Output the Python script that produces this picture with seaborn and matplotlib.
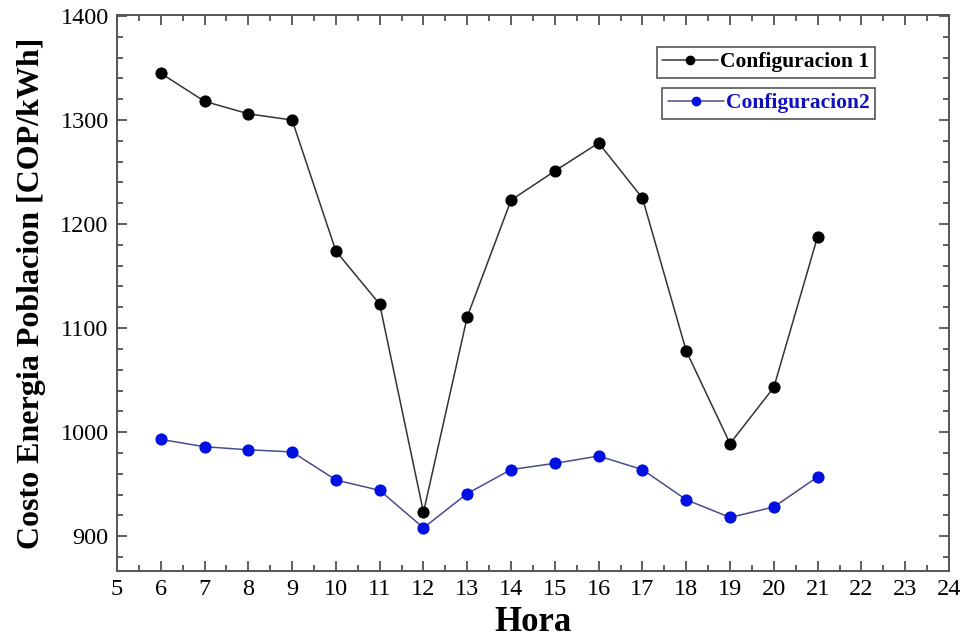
import numpy as np
import pandas as pd
import seaborn as sns
import matplotlib.pyplot as plt
from matplotlib.ticker import MultipleLocator
from matplotlib.lines import Line2D

# hourly cost values
hora = [6, 7, 8, 9, 10, 11, 12, 13, 14, 15, 16, 17, 18, 19, 20, 21]
config1 = [1345, 1318, 1306, 1300, 1174, 1123, 923, 1111, 1223, 1251, 1278, 1225, 1078, 989, 1043, 1188]
config2 = [993, 986, 983, 981, 954, 944, 908, 941, 964, 970, 977, 964, 935, 918, 928, 957]

df = pd.DataFrame({"Hora": hora, "Configuracion 1": config1, "Configuracion2": config2})

sns.set_theme(style="ticks")
plt.rcParams["font.family"] = ["Liberation Serif", "DejaVu Serif"]
plt.rcParams["text.color"] = "black"
plt.rcParams["axes.labelcolor"] = "black"
plt.rcParams["xtick.labelcolor"] = "black"
plt.rcParams["ytick.labelcolor"] = "black"

fig = plt.figure(figsize=(9.65, 6.4), dpi=100)
ax = fig.add_axes([0.1212, 0.1078, 0.8622, 0.8688])

sns.lineplot(data=df, x="Hora", y="Configuracion 1", ax=ax, color="#333333", lw=1.1,
             marker="o", markersize=8, markerfacecolor="black", markeredgecolor="black")
sns.lineplot(data=df, x="Hora", y="Configuracion2", ax=ax, color="#4b4b8c", lw=1.1,
             marker="o", markersize=8, markerfacecolor="#0010e0", markeredgecolor="#0010e0")

ax.set_xlim(5, 24)
ax.set_ylim(866.5, 1401)
ax.xaxis.set_major_locator(MultipleLocator(1))
ax.xaxis.set_minor_locator(MultipleLocator(0.5))
ax.yaxis.set_major_locator(MultipleLocator(100))
ax.yaxis.set_minor_locator(MultipleLocator(20))
ax.tick_params(which="both", direction="in", top=True, right=True, color="#444444", width=1.2)
ax.tick_params(which="major", length=7, labelsize=17.5, pad=6)
ax.tick_params(which="minor", length=4)
for s in ax.spines.values():
    s.set_color("#555555")
    s.set_linewidth(1.4)

ax.set_xlabel("Hora", fontsize=25, fontweight="bold", labelpad=4)
ax.set_ylabel("Costo Energia Poblacion [COP/kWh]", fontsize=23, fontweight="bold", labelpad=10)

h1 = Line2D([], [], color="#333333", lw=1.1, marker="o", markersize=6, markerfacecolor="black", markeredgecolor="black")
h2 = Line2D([], [], color="#4b4b8c", lw=1.1, marker="o", markersize=6, markerfacecolor="#0010e0", markeredgecolor="#0010e0")

leg1 = ax.legend([h1], ["Configuracion 1"], loc="upper right", bbox_to_anchor=(0.911, 0.9424),
                 frameon=True, fancybox=False, edgecolor="#555555", framealpha=1,
                 prop={"size": 15.5, "weight": "bold"}, handlelength=2.6, handletextpad=0.1,
                 borderpad=0.25, borderaxespad=0, labelcolor="black")
leg1.get_frame().set_linewidth(1.2)
ax.add_artist(leg1)
leg2 = ax.legend([h2], ["Configuracion2"], loc="upper right", bbox_to_anchor=(0.911, 0.8687),
                 frameon=True, fancybox=False, edgecolor="#555555", framealpha=1,
                 prop={"size": 15.5, "weight": "bold"}, handlelength=2.6, handletextpad=0.1,
                 borderpad=0.25, borderaxespad=0, labelcolor="#1010c0")
leg2.get_frame().set_linewidth(1.2)

fig.savefig("out.png", dpi=100)
